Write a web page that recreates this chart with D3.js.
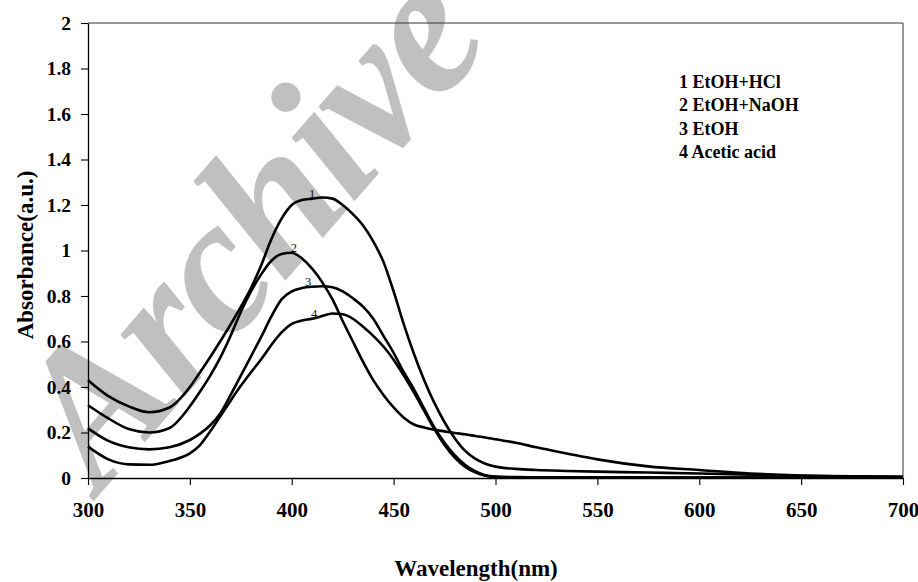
<!DOCTYPE html>
<html>
<head>
<meta charset="utf-8">
<script src="https://cdn.jsdelivr.net/npm/d3@7"></script>
<style>
  html, body { margin: 0; padding: 0; background: #fff; }
  svg { display: block; }
</style>
</head>
<body>
<svg id="chart" width="918" height="582"></svg>
<script>
// ---------------- data ----------------
const wavelengths = [300,310,320,330,340,350,355,360,365,370,375,380,385,390,395,400,405,410,415,420,425,430,435,440,445,450,455,460,465,470,475,480,485,490,495,500,510,520,535,550,575,600,625,650,675,700];

const seriesNames = ["1 EtOH+HCl", "2 EtOH+NaOH", "3 EtOH", "4 Acetic acid"];

const absEtOH_HCl = [0.43,0.36,0.315,0.289,0.31,0.40,0.465,0.532,0.602,0.675,0.752,0.835,0.935,1.05,1.14,1.20,1.222,1.228,1.233,1.228,1.20,1.16,1.11,1.04,0.95,0.82,0.675,0.545,0.43,0.33,0.245,0.175,0.12,0.085,0.063,0.05,0.04,0.035,0.031,0.028,0.024,0.02,0.015,0.01,0.007,0.005];

const absEtOH_NaOH = [0.32,0.262,0.215,0.20,0.22,0.315,0.38,0.45,0.53,0.625,0.73,0.82,0.895,0.955,0.985,0.99,0.965,0.92,0.86,0.785,0.69,0.60,0.51,0.43,0.365,0.31,0.265,0.235,0.222,0.212,0.205,0.198,0.192,0.185,0.178,0.17,0.155,0.135,0.108,0.082,0.051,0.035,0.02,0.011,0.007,0.005];

const absEtOH = [0.218,0.163,0.135,0.126,0.135,0.167,0.195,0.232,0.285,0.365,0.45,0.535,0.62,0.71,0.785,0.82,0.835,0.841,0.843,0.838,0.82,0.79,0.753,0.70,0.625,0.55,0.465,0.39,0.305,0.222,0.155,0.10,0.058,0.03,0.012,0.006,0.004,0.003,0.003,0.003,0.003,0.002,0.002,0.002,0.002,0.002];

const absAcetic = [0.138,0.082,0.06,0.058,0.075,0.108,0.145,0.205,0.272,0.34,0.405,0.465,0.522,0.585,0.64,0.677,0.692,0.70,0.712,0.723,0.72,0.70,0.665,0.625,0.578,0.52,0.45,0.375,0.295,0.215,0.145,0.09,0.05,0.025,0.01,0.004,0.003,0.002,0.002,0.002,0.002,0.002,0.002,0.002,0.002,0.002];

const curveLabels = ["1","2","3","4"];
const curveLabelWl = [410, 401, 408, 411];
const curveLabelAbs = [1.228, 0.988, 0.838, 0.70];

const xTicks = [300,350,400,450,500,550,600,650,700];
const yTicks = [0,0.2,0.4,0.6,0.8,1,1.2,1.4,1.6,1.8,2];
const yTickLabels = ["0","0.2","0.4","0.6","0.8","1","1.2","1.4","1.6","1.8","2"];

const xTitle = "Wavelength(nm)";
const yTitle = "Absorbance(a.u.)";
const watermark = "Archive";

// ---------------- layout ----------------
const svg = d3.select("#chart");
const W = 918, H = 582;
const mLeft = 88, mRight = 903, mTop = 23, mBottom = 478;
const serif = "'Liberation Serif', 'Times New Roman', serif";

svg.append("rect").attr("width", W).attr("height", H).attr("fill", "#fff");

// watermark (beneath everything)
svg.append("text")
  .attr("transform", "translate(100,494) rotate(-49)")
  .attr("font-family", serif)
  .attr("font-weight", "bold")
  .attr("font-style", "italic")
  .attr("font-size", 194)
  .attr("letter-spacing", -4)
  .attr("fill", "#c0c0c0")
  .text(watermark);

const x = d3.scaleLinear().domain([300, 700]).range([mLeft, mRight]);
const y = d3.scaleLinear().domain([0, 2]).range([mBottom, mTop]);

// frame top/right
svg.append("line").attr("x1", mLeft).attr("x2", mRight).attr("y1", mTop).attr("y2", mTop)
  .attr("stroke", "#333").attr("stroke-width", 1);
svg.append("line").attr("x1", mRight).attr("x2", mRight).attr("y1", mTop).attr("y2", mBottom)
  .attr("stroke", "#333").attr("stroke-width", 1);

// axes
const yAxis = d3.axisLeft(y).tickValues(yTicks)
  .tickFormat((d, i) => yTickLabels[i]).tickSize(7).tickSizeOuter(0).tickPadding(10);
const gy = svg.append("g").attr("transform", `translate(${mLeft},0)`).call(yAxis);

const xAxis = d3.axisBottom(x).tickValues(xTicks).tickFormat(d3.format("d"))
  .tickSize(7).tickSizeOuter(0);
const gx = svg.append("g").attr("transform", `translate(0,${mBottom})`).call(xAxis);

[gx, gy].forEach(g => {
  g.select(".domain").attr("stroke", "#000").attr("stroke-width", 1.3);
  g.selectAll(".tick line").attr("stroke", "#000").attr("stroke-width", 1.1);
  g.selectAll("text").attr("fill", "#000").attr("font-family", serif).attr("font-weight", "bold");
});
gy.selectAll("text").attr("font-size", 19.5);
gx.selectAll("text").attr("font-size", 21).attr("dy", null).attr("y", 39);

// curves
const allSeries = [absEtOH_HCl, absEtOH_NaOH, absEtOH, absAcetic];
const line = d3.line()
  .x((d, i) => x(wavelengths[i]))
  .y(d => y(d))
  .curve(d3.curveMonotoneX);

svg.append("g").selectAll("path")
  .data(allSeries)
  .join("path")
  .attr("d", d => line(d))
  .attr("fill", "none")
  .attr("stroke", "#000")
  .attr("stroke-width", 2.6)
  .attr("stroke-linejoin", "round");

// small curve numbers
svg.append("g").selectAll("text")
  .data(curveLabels)
  .join("text")
  .attr("x", (d, i) => x(curveLabelWl[i]))
  .attr("y", (d, i) => y(curveLabelAbs[i]) - 1)
  .attr("text-anchor", "middle")
  .attr("font-family", serif)
  .attr("font-size", 12.5)
  .attr("fill", "#111")
  .text(d => d);

// legend (text only)
svg.append("g").selectAll("text")
  .data(seriesNames)
  .join("text")
  .attr("x", 679)
  .attr("y", (d, i) => 87.5 + i * 23.5)
  .attr("font-family", serif)
  .attr("font-weight", "bold")
  .attr("font-size", 18)
  .attr("fill", "#000")
  .text(d => d);

// axis titles
svg.append("text")
  .attr("x", 476).attr("y", 576)
  .attr("text-anchor", "middle")
  .attr("font-family", serif).attr("font-weight", "bold").attr("font-size", 23)
  .text(xTitle);

svg.append("text")
  .attr("transform", "translate(33,255) rotate(-90)")
  .attr("text-anchor", "middle")
  .attr("font-family", serif).attr("font-weight", "bold").attr("font-size", 23)
  .text(yTitle);
</script>
</body>
</html>
